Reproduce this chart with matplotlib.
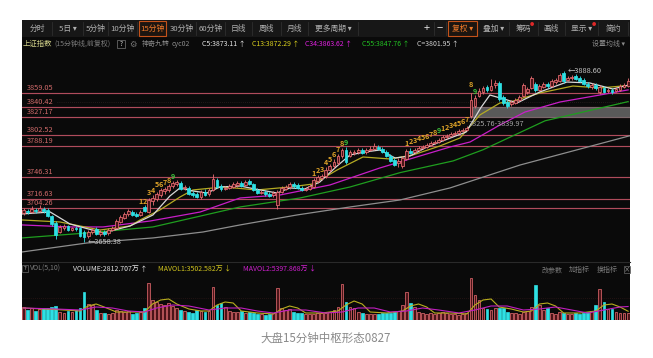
import matplotlib.pyplot as plt
from matplotlib.patches import Rectangle
from matplotlib.lines import Line2D

plt.rcParams['font.family'] = ['Noto Sans CJK SC', 'DejaVu Sans']

# ---- 15分钟K线数据 (上证指数) ----
opens = [
    3697.9, 3700.6, 3699.2, 3701.9, 3700.6, 3703.3, 3701.9, 3693.9, 3684.4, 3672.3,
    3677.7, 3680.4, 3675.0, 3677.7, 3677.7, 3672.3, 3666.9, 3672.3, 3676.4, 3669.6,
    3672.3, 3671.0, 3675.0, 3677.7, 3685.8, 3691.2, 3696.6, 3699.2, 3696.6, 3695.2,
    3706.0, 3699.2, 3714.1, 3716.7, 3722.1, 3727.5, 3728.9, 3734.2, 3736.9, 3738.3,
    3731.6, 3731.6, 3724.8, 3723.5, 3719.4, 3726.2, 3723.5, 3728.9, 3742.3, 3734.2,
    3730.2, 3731.6, 3732.9, 3735.6, 3738.3, 3735.6, 3741.0, 3736.9, 3728.9, 3724.8,
    3726.2, 3723.5, 3722.1, 3708.7, 3726.2, 3730.2, 3732.9, 3736.9, 3735.6, 3731.6,
    3728.9, 3730.2, 3732.9, 3741.0, 3745.0, 3747.7, 3755.8, 3761.2, 3765.2, 3774.6,
    3782.7, 3774.6, 3778.7, 3780.0, 3782.7, 3780.0, 3782.7, 3784.0, 3786.7, 3784.0,
    3780.0, 3774.6, 3769.2, 3765.2, 3761.2, 3770.6, 3781.4, 3780.0, 3782.7, 3785.4,
    3786.7, 3789.5, 3792.1, 3793.5, 3796.2, 3800.2, 3801.5, 3804.2, 3805.6, 3808.3,
    3809.6, 3828.5, 3841.9, 3855.4, 3860.8, 3867.5, 3863.5, 3870.2, 3872.9, 3854.0,
    3847.3, 3844.6, 3846.0, 3850.0, 3855.4, 3860.8, 3866.2, 3871.5, 3863.5, 3867.5,
    3871.5, 3868.8, 3874.2, 3875.6, 3886.3, 3876.9, 3879.6, 3882.3, 3879.6, 3876.9,
    3871.5, 3867.5, 3870.2, 3860.8, 3866.2, 3862.1, 3863.5, 3862.1, 3863.5, 3867.5,
    3868.8]
closes = [
    3701.9, 3699.2, 3703.3, 3700.6, 3704.6, 3700.6, 3693.9, 3683.1, 3668.3, 3679.1,
    3680.4, 3675.0, 3677.7, 3676.4, 3666.9, 3665.6, 3672.3, 3675.0, 3669.6, 3672.3,
    3669.6, 3675.0, 3677.7, 3687.1, 3692.5, 3696.6, 3700.6, 3695.2, 3693.9, 3699.2,
    3700.6, 3715.4, 3718.1, 3723.5, 3728.9, 3730.2, 3734.2, 3738.3, 3739.6, 3730.2,
    3732.9, 3723.5, 3722.1, 3719.4, 3726.2, 3722.1, 3728.9, 3743.7, 3732.9, 3730.2,
    3731.6, 3734.2, 3736.9, 3738.3, 3734.2, 3739.6, 3736.9, 3728.9, 3724.8, 3726.2,
    3723.5, 3720.8, 3724.8, 3726.2, 3731.6, 3732.9, 3736.9, 3734.2, 3731.6, 3728.9,
    3730.2, 3734.2, 3742.3, 3746.4, 3747.7, 3755.8, 3761.2, 3766.6, 3774.6, 3782.7,
    3766.6, 3780.0, 3780.0, 3782.7, 3778.7, 3782.7, 3784.0, 3788.1, 3784.0, 3780.0,
    3774.6, 3767.9, 3762.5, 3767.9, 3771.9, 3781.4, 3778.7, 3782.7, 3785.4, 3786.7,
    3789.5, 3792.1, 3793.5, 3796.2, 3800.2, 3801.5, 3804.2, 3805.6, 3808.3, 3809.6,
    3812.3, 3850.0, 3852.7, 3862.1, 3866.2, 3863.5, 3868.8, 3872.9, 3851.4, 3846.0,
    3841.9, 3847.3, 3850.0, 3854.0, 3870.2, 3864.8, 3879.6, 3863.5, 3868.8, 3871.5,
    3868.8, 3875.6, 3876.9, 3883.7, 3875.6, 3879.6, 3881.0, 3878.3, 3875.6, 3871.5,
    3868.8, 3870.2, 3866.2, 3867.5, 3860.8, 3863.5, 3860.8, 3864.8, 3868.8, 3870.2,
    3875.6]
highs = [
    3704.6, 3703.3, 3707.3, 3704.6, 3708.7, 3706.0, 3704.6, 3695.2, 3687.1, 3681.8,
    3683.1, 3681.8, 3679.1, 3680.4, 3680.4, 3675.0, 3675.0, 3677.7, 3679.1, 3675.0,
    3675.0, 3677.7, 3680.4, 3689.8, 3695.2, 3699.2, 3703.3, 3701.9, 3699.2, 3701.9,
    3708.7, 3718.1, 3722.1, 3726.2, 3731.6, 3732.9, 3736.9, 3741.0, 3742.3, 3741.0,
    3735.6, 3734.2, 3727.5, 3726.2, 3728.9, 3730.2, 3731.6, 3750.4, 3745.0, 3736.9,
    3734.2, 3736.9, 3739.6, 3741.0, 3741.0, 3742.3, 3743.7, 3738.3, 3731.6, 3728.9,
    3728.9, 3726.2, 3727.5, 3728.9, 3734.2, 3735.6, 3739.6, 3739.6, 3738.3, 3734.2,
    3732.9, 3736.9, 3745.0, 3749.1, 3750.4, 3759.8, 3763.9, 3770.6, 3777.3, 3785.4,
    3786.7, 3782.7, 3782.7, 3785.4, 3785.4, 3785.4, 3788.1, 3792.1, 3789.5, 3786.7,
    3782.7, 3777.3, 3771.9, 3771.9, 3774.6, 3784.0, 3785.4, 3785.4, 3788.1, 3789.5,
    3792.1, 3794.8, 3796.2, 3798.9, 3802.9, 3804.2, 3806.9, 3808.3, 3811.0, 3812.3,
    3815.0, 3859.4, 3856.7, 3866.2, 3868.8, 3870.2, 3878.3, 3876.9, 3875.6, 3856.7,
    3850.0, 3850.0, 3852.7, 3856.7, 3872.9, 3867.5, 3882.3, 3874.2, 3871.5, 3874.2,
    3874.2, 3878.3, 3879.6, 3886.3, 3888.6, 3882.3, 3883.7, 3885.0, 3882.3, 3879.6,
    3874.2, 3872.9, 3872.9, 3870.2, 3868.8, 3866.2, 3866.2, 3867.5, 3871.5, 3872.9,
    3879.6]
lows = [
    3695.2, 3696.6, 3697.9, 3697.9, 3699.2, 3697.9, 3692.5, 3680.4, 3662.9, 3671.0,
    3675.0, 3673.7, 3673.7, 3673.7, 3665.6, 3658.38, 3664.3, 3669.6, 3668.3, 3666.9,
    3666.9, 3668.3, 3673.7, 3676.4, 3684.4, 3689.8, 3693.9, 3693.9, 3692.5, 3693.9,
    3699.2, 3697.9, 3708.7, 3714.1, 3719.4, 3723.5, 3726.2, 3731.6, 3734.2, 3728.9,
    3728.9, 3722.1, 3719.4, 3718.1, 3716.7, 3720.8, 3720.8, 3727.5, 3731.6, 3727.5,
    3728.9, 3730.2, 3731.6, 3732.9, 3732.9, 3734.2, 3735.6, 3727.5, 3723.5, 3723.5,
    3720.8, 3719.4, 3719.4, 3703.3, 3724.8, 3728.9, 3730.2, 3731.6, 3730.2, 3727.5,
    3727.5, 3728.9, 3731.6, 3738.3, 3742.3, 3745.0, 3753.1, 3758.5, 3762.5, 3771.9,
    3763.9, 3773.3, 3776.0, 3777.3, 3777.3, 3777.3, 3781.4, 3782.7, 3782.7, 3778.7,
    3773.3, 3766.6, 3761.2, 3759.8, 3758.5, 3769.2, 3777.3, 3778.7, 3781.4, 3784.0,
    3785.4, 3788.1, 3790.8, 3792.1, 3794.8, 3797.5, 3800.2, 3802.9, 3804.2, 3806.9,
    3808.3, 3825.8, 3839.2, 3854.0, 3858.1, 3860.8, 3862.1, 3866.2, 3848.7, 3843.3,
    3839.2, 3841.9, 3844.6, 3847.3, 3854.0, 3858.1, 3864.8, 3860.8, 3862.1, 3866.2,
    3866.2, 3867.5, 3871.5, 3874.2, 3872.9, 3875.6, 3876.9, 3876.9, 3874.2, 3870.2,
    3866.2, 3864.8, 3863.5, 3858.1, 3859.4, 3859.4, 3858.1, 3860.8, 3862.1, 3866.2,
    3867.5]
# 成交量 (万)
volumes = [
    5200, 4000, 4800, 3600, 4400, 4800, 4800, 5200, 5600, 3200,
    2800, 3600, 3200, 4000, 4800, 11200, 6400, 6000, 4000, 2800,
    2800, 2400, 2800, 4000, 3600, 3200, 3600, 2400, 2800, 3200,
    4800, 14800, 8000, 7200, 6400, 6000, 6800, 5600, 4800, 4000,
    3600, 3200, 2800, 4000, 3600, 3200, 3600, 13200, 6000, 6800,
    5200, 3600, 3200, 3200, 3600, 2800, 3200, 2800, 2400, 2400,
    2000, 2400, 2800, 12800, 4800, 4000, 4400, 3200, 2800, 2800,
    2400, 2400, 2400, 2800, 2800, 2800, 3200, 4000, 5200, 14400,
    7200, 5200, 4800, 3200, 2800, 2400, 2400, 2400, 2400, 2800,
    2800, 2800, 3200, 3600, 6000, 11200, 6800, 5200, 3200, 2800,
    2400, 2800, 2400, 2800, 3200, 2800, 2400, 2400, 2000, 2400,
    2800, 16800, 10000, 8000, 4800, 4400, 4000, 4800, 4800, 4800,
    3200, 2800, 2800, 2400, 3200, 3600, 5200, 14000, 6000, 4000,
    4800, 2800, 2400, 3200, 2800, 2400, 2400, 2800, 2400, 2800,
    3200, 3600, 6000, 12400, 7200, 4400, 4400, 3200, 2800, 2800,
    2812.7]

# 均线 (读图采样点: K线序号, 价格)
ma5_i = [-0.4, 6.6, 11.5, 19.7, 26.4, 32.1, 36.3, 38.8, 42, 45.5, 48.7, 53.7, 58.7,
         62.9, 66.1, 69.8, 73.5, 77.8, 81, 84.7, 88.4, 92.2, 95.9, 99.6, 103.3, 109.8,
         111.5, 113.5, 115.7, 120, 122.4, 128.1, 134.8, 140.5, 146.2, 150]
ma5_p = [3696.6, 3699.2, 3683.1, 3671.0, 3680.4, 3695.2, 3720.8, 3731.6, 3727.5, 3724.8,
         3732.9, 3734.2, 3728.9, 3724.8, 3731.6, 3730.2, 3739.6, 3761.2, 3776.0, 3780.0,
         3782.7, 3771.9, 3774.6, 3785.4, 3793.5, 3806.9, 3822.0, 3840.0, 3856.7, 3850.0,
         3846.0, 3860.8, 3874.2, 3872.9, 3864.8, 3870.0]
ma13_i = [-0.4, 9, 19, 26.4, 28.9, 33.8, 38.8, 42, 49.5, 57.9, 66.1, 71.8, 77.8, 84.2,
          90.9, 96.6, 103.3, 108.3, 113.2, 118.2, 120.7, 128.1, 136.3, 143, 150]
ma13_p = [3688.5, 3685.8, 3675.0, 3680.4, 3688.5, 3701.9, 3719.4, 3728.9, 3732.9, 3728.9,
          3732.9, 3736.9, 3755.8, 3773.3, 3770.6, 3776.0, 3788.1, 3798.9, 3829.8, 3846.0,
          3847.3, 3859.4, 3868.8, 3866.2, 3869.5]
ma34_i = [-0.4, 11.5, 19.7, 31.4, 43.8, 53.7, 63.6, 76, 88.4, 105.8, 110.8, 118.2, 124.4,
          133.1, 143, 150]
ma34_p = [3681.8, 3679.1, 3679.1, 3687.1, 3699.2, 3718.1, 3722.1, 3735.6, 3758.5, 3786.7,
          3793.5, 3816.4, 3833.8, 3847.3, 3856.7, 3863.6]
ma55_i = [-0.4, 15.7, 32.1, 53.7, 68.6, 81, 93.4, 106.6, 114, 129.4, 150]
ma55_p = [3664.3, 3671.0, 3679.1, 3706.0, 3718.1, 3732.9, 3752.2, 3768.0, 3783.0, 3822.0,
          3847.8]
ma_long_i = [-0.4, 15.7, 32.1, 44.5, 53.7, 67.8, 81, 93.4, 105.8, 123.2, 150.5]
ma_long_p = [3645.4, 3657.5, 3664.3, 3672.3, 3681.8, 3695.2, 3706.0, 3715.4, 3731.6,
             3762.5, 3801.95]

mavol1_i = [0, 5, 10, 14, 16, 18, 20, 23, 27, 30, 32, 34, 36, 38, 41, 44, 46, 48, 50, 52,
            54, 58, 62, 64, 66, 68, 70, 74, 78, 80, 82, 84, 86, 90, 94, 96, 98, 100, 102,
            106, 110, 112, 114, 116, 118, 121, 124, 126, 128, 130, 132, 134, 138, 142,
            144, 146, 148, 150]
mavol1_v = [4800, 4400, 4000, 3600, 5600, 6400, 5200, 3200, 3200, 3200, 6400, 8000, 8400,
            6400, 4400, 3600, 3600, 6000, 7200, 6800, 3600, 2800, 2400, 4400, 5600, 4800,
            2800, 2800, 3600, 6000, 7600, 6400, 3200, 2800, 3600, 5600, 6400, 5200, 2800,
            2800, 2400, 6000, 8000, 8400, 5200, 4400, 3200, 3600, 6400, 6800, 5600, 2800,
            2800, 3600, 6000, 6400, 5200, 3502.6]
mavol2_i = [0, 8, 14, 18, 22, 26, 30, 33, 37, 41, 46, 50, 54, 58, 62, 66, 70, 75, 79, 83,
            87, 91, 95, 99, 103, 108, 112, 116, 120, 124, 128, 132, 136, 140, 144, 148, 150]
mavol2_v = [4800, 4400, 4000, 5200, 4800, 3600, 3200, 4800, 6000, 5600, 4000, 4800, 4800,
            3600, 2800, 4000, 4000, 2800, 3200, 4800, 4800, 3200, 3600, 4800, 4000, 2800,
            4000, 5600, 5600, 4000, 4400, 5200, 4000, 2800, 4000, 5200, 5397.9]

levels = [3859.05, 3840.42, 3827.17, 3802.52, 3788.19, 3746.31, 3716.63, 3704.26]
zone_low, zone_high = 3825.76, 3839.97
zone_start = 110.8

# 神奇九转 标记
nine_idx = [29, 30, 31, 32, 33, 34, 35, 36, 37,
            72, 73, 74, 75, 76, 77, 78, 79, 80,
            95, 96, 97, 98, 99, 100, 101, 102, 103,
            104, 105, 106, 107, 108, 109, 110, 111, 112]
nine_txt = ['1', '2', '3', '4', '5', '6', '7', '8', '9',
            '1', '2', '3', '4', '5', '6', '7', '8', '9',
            '1', '2', '3', '4', '5', '6', '7', '8', '9',
            '1', '2', '3', '4', '5', '6', '7', '8', '9']
nine_price = [3713, 3713, 3724.8, 3728, 3736.9, 3736.9, 3739.6, 3742, 3747,
              3751, 3755, 3757, 3766, 3770, 3777, 3783, 3792, 3793,
              3792.1, 3793.5, 3794.8, 3797.5, 3798.9, 3801.5, 3804.2, 3805.6, 3808.3,
              3811.0, 3812.3, 3815.0, 3816.4, 3819.0, 3820.4, 3823.1, 3870.2, 3862.1]

W, H = 653, 358
fig = plt.figure(figsize=(W / 100, H / 100), dpi=100)
fig.patch.set_facecolor('white')


def fx(x):
    return x / W


def fy(y):
    return 1 - y / H


def frect(x0, y0, x1, y1, **kw):
    r = Rectangle((fx(x0), fy(y1)), (x1 - x0) / W, (y1 - y0) / H,
                  transform=fig.transFigure, **kw)
    fig.add_artist(r)


def fline(x0, y0, x1, y1, **kw):
    fig.add_artist(Line2D([fx(x0), fx(x1)], [fy(y0), fy(y1)], transform=fig.transFigure, **kw))


def ftext(x, y, s, **kw):
    kw.setdefault('va', 'center')
    kw.setdefault('fontsize', 5)
    fig.text(fx(x), fy(y), s, **kw)


def axes_px(x0, y0, x1, y1):
    a = fig.add_axes([fx(x0), fy(y1), (x1 - x0) / W, (y1 - y0) / H])
    a.axis('off')
    return a


# panel background
frect(22, 20, 630, 320, facecolor='#0a0a0a', edgecolor='none', zorder=-5)
frect(22, 20, 630, 37, facecolor='#171717', edgecolor='none', zorder=-4)

# toolbar
tool_left = [('分时', 22, 52), ('5日 ▾', 52, 83), ('5分钟', 83, 108), ('10分钟', 108, 137),
             ('15分钟', 138, 167), ('30分钟', 167, 196), ('60分钟', 196, 225), ('日线', 225, 252),
             ('周线', 252, 281), ('月线', 281, 308), ('更多周期 ▾', 308, 358)]
tool_right = [('+', 420, 434), ('−', 434, 446), ('复权 ▾', 447, 478), ('叠加 ▾', 478, 509),
              ('筹码', 509, 538), ('画线', 538, 565), ('显示 ▾', 565, 598), ('简约', 598, 628)]
for label, x0, x1 in tool_left + tool_right:
    hot = label in ('15分钟', '复权 ▾')
    if hot:
        frect(x0 + 1, 21, x1 - 1, 36, facecolor='#1c1510', edgecolor='#c4521a', lw=0.8, zorder=-3)
    else:
        fline(x1, 22, x1, 35, color='#2e2e2e', lw=0.6)
    big = label in ('+', '−')
    ftext((x0 + x1) / 2, 28.5, label, ha='center',
          fontsize=8 if big else 5.6,
          color='#f07a2a' if hot else ('#e6e6e6' if big else '#b0b0b0'))
ftext(532, 25, '●', ha='center', fontsize=3, color='#e02828')
ftext(594, 25, '●', ha='center', fontsize=3, color='#e02828')

# info line
ftext(23, 44, '上证指数', color='#d2d28a', fontsize=5.3)
ftext(54, 44, '(15分钟线,前复权)', color='#7c7c7c', fontsize=5)
frect(117, 40, 125, 48, facecolor='#0a0a0a', edgecolor='#777777', lw=0.5)
ftext(121, 44, '?', ha='center', color='#dddddd', fontsize=4.5)
ftext(133, 44, '⚙', ha='center', color='#777777', fontsize=6)
ftext(142, 44, '神奇九转', color='#8a8a8a', fontsize=5)
ftext(172, 44, 'cyc02', color='#8a8a8a', fontsize=5)
ftext(202, 44, 'C5:3873.11 ↑', color='#e6e6e6', fontsize=5)
ftext(252, 44, 'C13:3872.29 ↑', color='#dcd21e', fontsize=5)
ftext(305, 44, 'C34:3863.62 ↑', color='#e020e0', fontsize=5)
ftext(362, 44, 'C55:3847.76 ↑', color='#22c022', fontsize=5)
ftext(417, 44, 'C=3801.95 ↑', color='#d0d0d0', fontsize=5)
ftext(592, 44, '设置均线 ▾', color='#8a8a8a', fontsize=5)

# ---- main price chart ----
ax = axes_px(22, 52, 630, 258)
ax.set_xlim(-0.4, 150.47)
ax.set_ylim(3637.3, 3914.6)

ax.axhline(3847.3, xmin=0.058, color='#3a2a2a', lw=0.5, ls=(0, (1, 2)), zorder=1)
for lv in levels:
    ax.axhline(lv, color='#b04c5c', lw=0.85, zorder=1)
    ax.text(0.008, lv + 1.8, f'{lv:.2f}', transform=ax.get_yaxis_transform(),
            color='#d06a6a', fontsize=5.3, va='bottom', ha='left')
ax.fill_between([zone_start, 150.47], zone_low, zone_high, color='#6e6e6e', alpha=0.8,
                lw=0, zorder=1.5)
ax.text(110.6, 3817.7, f'{zone_low:.2f}-{zone_high:.2f}', color='#a4a4a4', fontsize=5.3,
        va='center', ha='left', zorder=6)

ax.plot(ma_long_i, ma_long_p, color='#8e8e8e', lw=0.9, zorder=2)
ax.plot(ma55_i, ma55_p, color='#1f9e1f', lw=0.9, zorder=2)
ax.plot(ma34_i, ma34_p, color='#c81ec8', lw=0.9, zorder=2)
ax.plot(ma13_i, ma13_p, color='#b4aa22', lw=0.9, zorder=2)
ax.plot(ma5_i, ma5_p, color='#d8d8d8', lw=0.9, zorder=2)

up_edge, up_face, dn_col = '#ec6e74', '#4a1418', '#2ee0e4'
idx = list(range(len(closes)))
body_bot = [min(o, c) for o, c in zip(opens, closes)]
body_h = [max(abs(c - o), 0.5) for o, c in zip(opens, closes)]
is_up = [c >= o for o, c in zip(opens, closes)]
edges = [up_edge if u else dn_col for u in is_up]
faces = [up_face if u else dn_col for u in is_up]
ax.vlines(idx, lows, highs, colors=edges, lw=0.6, zorder=3)
ax.bar(idx, body_h, bottom=body_bot, width=0.7, color=faces, edgecolor=edges, lw=0.55,
       zorder=4)

for i, t, p in zip(nine_idx, nine_txt, nine_price):
    ax.text(i, p, t, ha='center', va='center', fontsize=5.2, fontweight='bold',
            color='#3cc23c' if t == '9' else '#e0a428', zorder=6)

lo = lows.index(min(lows))
hi = highs.index(max(highs))
ax.text(lo + 1, lows[lo], f'←{lows[lo]:.2f}', color='#c4c4c4', fontsize=5.3, va='center',
        ha='left', zorder=6)
ax.text(hi + 1, highs[hi], f'←{highs[hi]:.2f}', color='#c4c4c4', fontsize=5.3, va='center',
        ha='left', zorder=6)

# ---- volume panel ----
fline(22, 262, 630, 262, color='#2a2a2a', lw=0.8)
frect(22, 265, 28, 272, facecolor='#0a0a0a', edgecolor='#6a6a6a', lw=0.5)
ftext(25, 268.5, '?', ha='center', color='#cccccc', fontsize=4.2)
ftext(30, 269, 'VOL(5,10)', color='#7a7a7a', fontsize=5)
ftext(73, 269, 'VOLUME:2812.707万 ↑', color='#e6e6e6', fontsize=5)
ftext(158, 269, 'MAVOL1:3502.582万 ↓', color='#d0c41e', fontsize=5)
ftext(243, 269, 'MAVOL2:5397.868万 ↓', color='#d020d0', fontsize=5)
ftext(542, 270, '改参数', color='#7a7a7a', fontsize=5)
ftext(569, 270, '加指标', color='#7a7a7a', fontsize=5)
ftext(597, 270, '换指标', color='#7a7a7a', fontsize=5)
frect(624, 266, 630, 273, facecolor='#0a0a0a', edgecolor='#6a6a6a', lw=0.5)
ftext(627, 269.5, '×', ha='center', color='#aaaaaa', fontsize=4.5)

vax = axes_px(22, 276, 630, 320)
vax.set_xlim(-0.4, 150.47)
vax.set_ylim(0, 17600)
vax.axhline(8800, color='#3a1c1c', lw=0.5, ls=(0, (1, 2)))
vax.bar(idx, volumes, width=0.7, color=faces, edgecolor=edges, lw=0.5, zorder=2)
vax.plot(mavol1_i, mavol1_v, color='#b8ae1e', lw=0.8, zorder=3)
vax.plot(mavol2_i, mavol2_v, color='#c01ec0', lw=0.8, zorder=3)

# caption
ftext(326, 338, '大盘15分钟中枢形态0827', ha='center', color='#8a8a8a', fontsize=8.3)

fig.savefig('out.png', dpi=100)
